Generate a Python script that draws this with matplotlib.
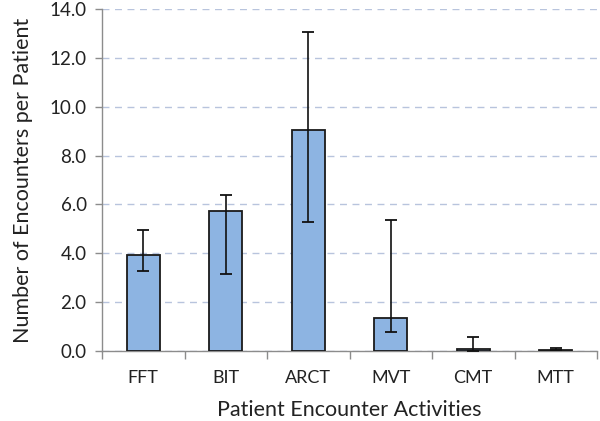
import matplotlib
matplotlib.use("Agg")
import matplotlib.pyplot as plt
import numpy as np

categories = ["FFT", "BIT", "ARCT", "MVT", "CMT", "MTT"]
means = [3.93, 5.73, 9.05, 1.34, 0.08, 0.05]
lower = [3.27, 3.15, 5.28, 0.79, 0.0, 0.02]
upper = [4.95, 6.39, 13.04, 5.36, 0.59, 0.12]
yticks = [0, 2, 4, 6, 8, 10, 12, 14]

plt.rcParams['font.family'] = ['Lato', 'DejaVu Sans']

fig = plt.figure(figsize=(6, 4.21), dpi=100)
ax = fig.add_axes([0.17, 0.1663, 0.825, 0.8123])

x = np.arange(len(categories))
m = np.array(means)
yerr = np.vstack([m - np.array(lower), np.array(upper) - m])
ax.bar(x, m, width=0.4, color="#8db4e2", edgecolor="#1a1a1a", linewidth=1.3, zorder=3)
ax.errorbar(x, m, yerr=yerr, fmt="none", ecolor="#111111", elinewidth=1.2, capsize=4.5, capthick=1.3, zorder=4)

ax.set_xlim(-0.5, len(categories) - 0.5)
ax.set_ylim(0, 14)
ax.set_yticks(yticks)
ax.set_yticklabels([f"{v:.1f}" for v in yticks])
ax.yaxis.grid(True, linestyle=(0, (5, 4)), color="#b8c4dd", linewidth=1.0, zorder=0)
ax.set_axisbelow(True)

ax.set_xticks(x)
ax.set_xticklabels(categories)
ax.set_xticks(np.arange(-0.5, len(categories)), minor=True)
ax.tick_params(axis="x", which="major", length=0, pad=14, labelsize=13, labelcolor="#222222")
ax.tick_params(axis="x", which="minor", length=6, color="#8c8c8c", width=1.0)
ax.tick_params(axis="y", length=5, color="#8c8c8c", width=1.0, labelsize=13.5, pad=6, labelcolor="#222222")

for s in ["top", "right"]:
    ax.spines[s].set_visible(False)
for s in ["left", "bottom"]:
    ax.spines[s].set_color("#8c8c8c")
    ax.spines[s].set_linewidth(1.0)

ax.set_xlabel("Patient Encounter Activities", fontsize=15.5, labelpad=10, color="#222222")
ax.set_ylabel("Number of Encounters per Patient", fontsize=15.5, labelpad=12, color="#222222")

fig.savefig("out.png", dpi=100)
